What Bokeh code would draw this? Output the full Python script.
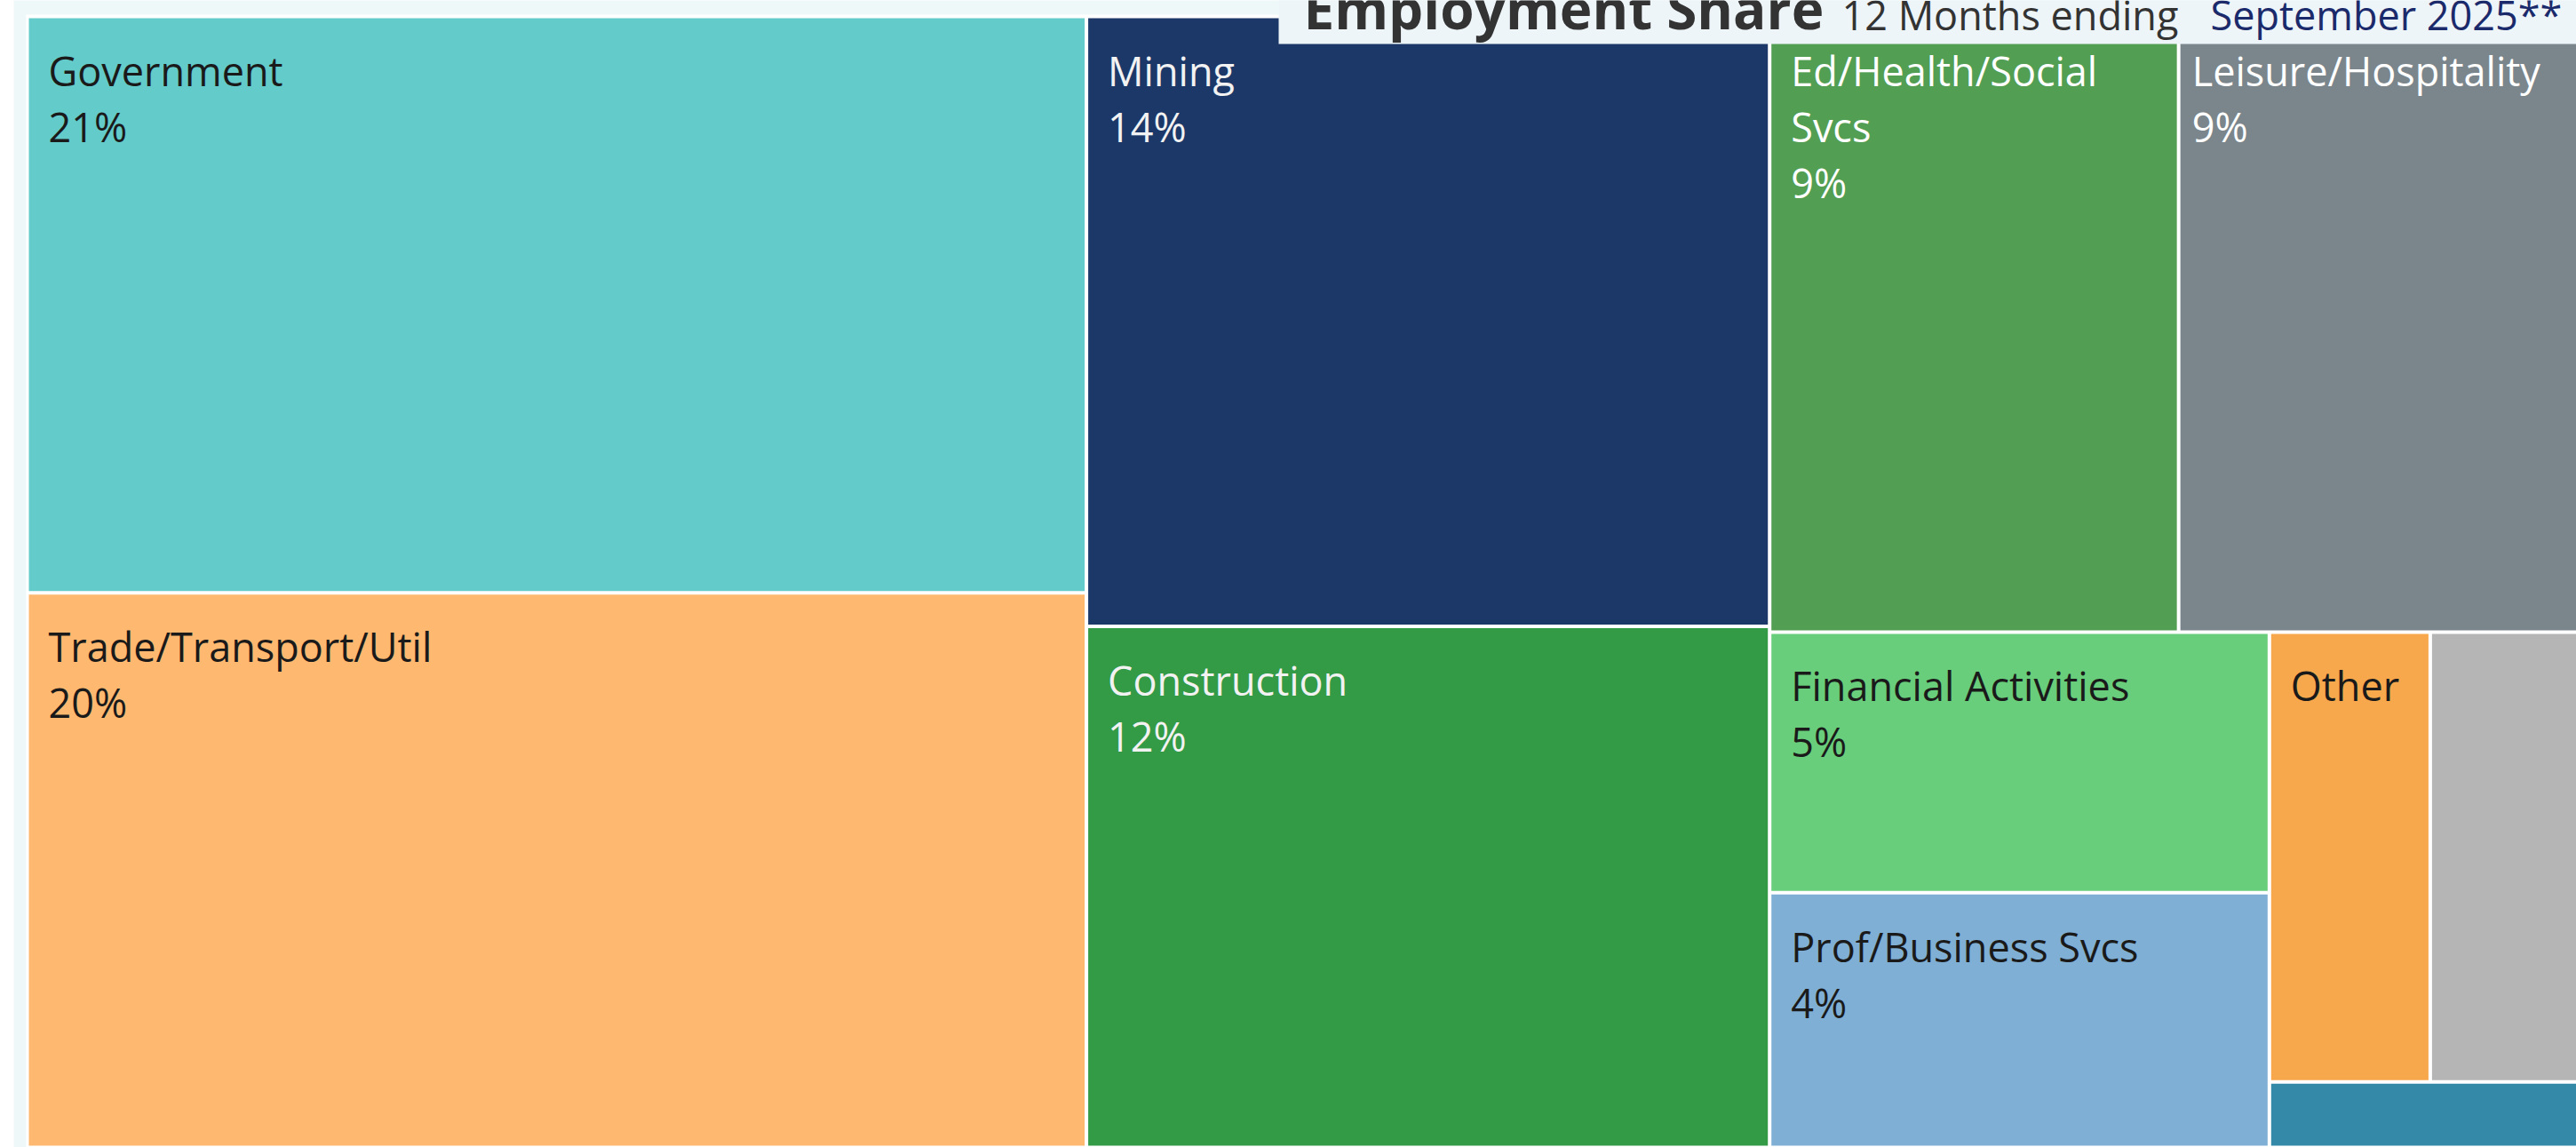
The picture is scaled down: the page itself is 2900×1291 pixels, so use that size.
from bokeh.plotting import figure
from bokeh.models import Range1d
from bokeh.core.properties import value
from bokeh.embed import file_html
from bokeh.resources import INLINE

# ---------------- data ----------------
sectors = ["Government", "Trade/Transport/Util", "Mining", "Construction",
           "Ed/Health/Social Svcs", "Leisure/Hospitality", "Financial Activities",
           "Prof/Business Svcs", "Other", "Manufacturing", "Information"]
shares = [21.1, 20.3, 14.4, 12.3, 8.7, 8.5, 4.5, 4.4, 2.5, 2.3, 0.7]
label_lines = [["Government"], ["Trade/Transport/Util"], ["Mining"], ["Construction"],
               ["Ed/Health/Social", "Svcs"], ["Leisure/Hospitality"], ["Financial Activities"],
               ["Prof/Business Svcs"], ["Other"], [], []]
show_pct = [True, True, True, True, True, True, True, True, False, False, False]
colors = ["#63CBC9", "#FFB870", "#1B3869", "#339A46", "#529E53", "#7B868C",
          "#69CE7B", "#7FAFD5", "#F7A84C", "#B5B5B5", "#3389A7"]
text_colors = ["#1a1a1a", "#1a1a1a", "#F2F2F2", "#F2F2F2", "#FFFFFF", "#FFFFFF",
               "#1a1a1a", "#1a1a1a", "#1a1a1a", "#1a1a1a", "#1a1a1a"]
strip_sizes = [2, 2, 2, 2, 2, 1]

title_main = "Employment Share"
title_sub1 = "12 Months ending"
title_sub2 = "September 2025**"

# ---------------- layout ----------------
W, H = 2900, 1291
FONT = value("Open Sans")
MID = 0.388  # offset (in em) from alphabetic baseline to text middle


def strip_layout(vals, x0, y0, x1, y1, groups):
    rects = []
    i = 0
    for g in groups:
        grp = vals[i:i + g]
        rem = sum(vals[i:])
        s = sum(grp)
        w, h = x1 - x0, y1 - y0
        if w >= h:
            cw = w * s / rem
            yy = y0
            for v in grp:
                hh = h * v / s
                rects.append((x0, yy, x0 + cw, yy + hh))
                yy += hh
            x0 += cw
        else:
            ch = h * s / rem
            xx = x0
            for v in grp:
                ww = w * v / s
                rects.append((xx, y0, xx + ww, y0 + ch))
                xx += ww
            y0 += ch
        i += g
    return rects


p = figure(width=W, height=H, output_backend="svg", toolbar_location=None,
           x_range=Range1d(0, W), y_range=Range1d(H, 0),
           min_border=0, min_border_left=0, min_border_right=0,
           min_border_top=0, min_border_bottom=0)
p.axis.visible = False
p.grid.visible = False
p.outline_line_color = None
p.background_fill_color = "white"
p.border_fill_color = "white"

# padding backgrounds
p.quad(left=[15], right=[W + 10], top=[-10], bottom=[H + 10], fill_color="#EFF8F8", line_color=None)
p.quad(left=[29], right=[W + 10], top=[16], bottom=[H + 10], fill_color="white", line_color=None)

gap = 4.0
rects = strip_layout(shares, 30, 18, W + 2, H, strip_sizes)
L = [r[0] + gap / 2 for r in rects]
T = [r[1] + gap / 2 for r in rects]
R = [r[2] - gap / 2 for r in rects]
B = [r[3] - gap / 2 for r in rects]
p.quad(left=L, right=R, top=T, bottom=B, fill_color=colors, line_color=None)

total = sum(shares)
fs = 45
lab_dx = {"Leisure/Hospitality": 13}
tx, ty, tt, tc = [], [], [], []
for i, name in enumerate(sectors):
    lines = list(label_lines[i])
    if show_pct[i]:
        lines.append(f"{round(shares[i] / total * 100):d}%")
    for k, line in enumerate(lines):
        tx.append(L[i] + lab_dx.get(name, 22))
        ty.append(T[i] + 76 + 63 * k - MID * fs)
        tt.append(line)
        tc.append(text_colors[i])
p.text(x=tx, y=ty, text=tt, text_color=tc, text_font=FONT, text_font_size=f"{fs}px",
       text_baseline="middle", text_align="left")

# title box
base = 33
p.quad(left=[1439], right=[W + 10], top=[-10], bottom=[49], fill_color="#EEF5F9", line_color=None)
p.text(x=[1467], y=[base - MID * 62], text=[title_main], text_font=FONT, text_font_size="62px",
       text_font_style="bold", text_color="#333333", text_baseline="middle")
p.text(x=[2073], y=[base - MID * 45], text=[title_sub1], text_font=FONT, text_font_size="45px",
       text_color="#333333", text_baseline="middle")
p.text(x=[2488], y=[base - MID * 45], text=[title_sub2], text_font=FONT, text_font_size="45px",
       text_color="#1B2A6B", text_baseline="middle")

open("out.html", "w").write(file_html(p, INLINE))
